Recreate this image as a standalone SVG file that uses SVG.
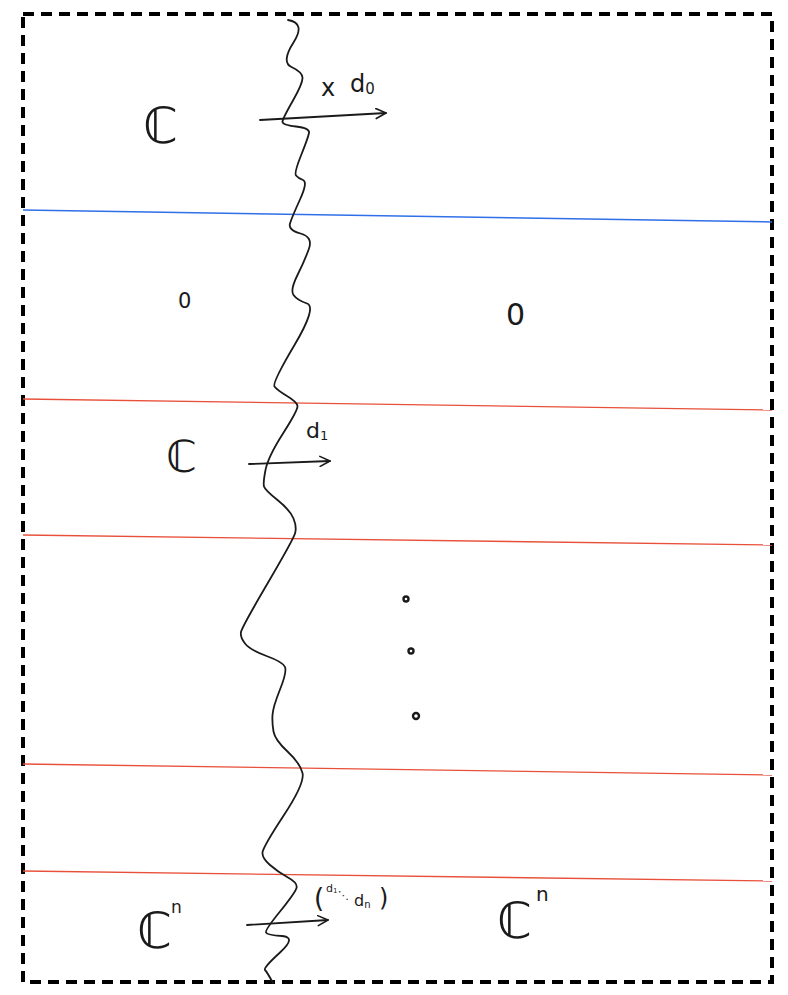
<svg xmlns="http://www.w3.org/2000/svg" width="788" height="995" viewBox="0 0 788 995">
<defs>
<style>
.ink{fill:none;stroke:#1a1a1a;stroke-width:1.8;stroke-linecap:round;stroke-linejoin:round}
.red{stroke:#e8503a;stroke-width:1.3;fill:none}
.blue{stroke:#2f6fe8;stroke-width:1.5;fill:none}
.t{font-family:"DejaVu Sans","Noto Sans",sans-serif;fill:#1a1a1a}
.dot{fill:none;stroke:#1a1a1a;stroke-width:2.4}
</style>
<marker id="ah" viewBox="0 0 12 12" refX="11" refY="6" markerWidth="12" markerHeight="12" markerUnits="userSpaceOnUse" orient="auto">
<path d="M1,1 L11,6 L1,11" fill="none" stroke="#1a1a1a" stroke-width="1.6" stroke-linecap="round" stroke-linejoin="round"/>
</marker>
</defs>
<rect width="788" height="995" fill="#ffffff"/>
<rect id="frame" x="23" y="14" width="749" height="968" fill="none" stroke="#000" stroke-width="4" stroke-dasharray="11,7"/>
<g id="lines">
<line class="blue" x1="23" y1="210" x2="772" y2="222"/>
<line class="red" x1="23" y1="399" x2="772" y2="410"/>
<line class="red" x1="23" y1="535" x2="772" y2="545"/>
<line class="red" x1="23" y1="764" x2="772" y2="775"/>
<line class="red" x1="23" y1="871" x2="772" y2="881"/>
</g>
<g id="wavy">
<path class="ink" d="M288,20 Q306,23 293.5,42.5 Q281,62 291.5,67 Q302,72 302.5,77.5 Q303,83 293,100.5 Q283,118 282.5,121.5 Q282,125 296,126.5 Q310,128 309,133 Q308,138 301,155.5 Q294,173 296,175.5 Q298,178 303,180 Q308,182 300,199.5 Q292,217 290,223.5 Q288,230 300.5,233.5 Q313,237 309,248.5 Q305,260 297.5,275 Q290,290 293.5,295 Q297,300 307,303.5 Q317,307 294.5,345 Q272,383 274.5,386.5 Q277,390 287,396 Q297,402 297.5,406 Q298,410 283,433.5 Q268,457 265.5,470 Q263,483 264,486.5 Q265,490 277.5,500 Q290,510 293.5,518.5 Q297,527 295,533.5 Q293,540 267.5,583.5 Q242,627 241,632 Q240,637 245,643.5 Q250,650 266.5,656 Q283,662 285,667 Q287,672 280,689.5 Q273,707 272.5,715 Q272,723 273.5,731.5 Q275,740 287.5,751.5 Q300,763 302.5,773 Q305,783 284,815 Q263,847 262.5,852.5 Q262,858 270,865 Q278,872 288,877.5 Q298,883 296.5,888 Q295,893 280,911.5 Q265,930 266,932.5 Q267,935 282,936 Q297,937 280,952.5 Q263,968 265,970 Q267,972 273,983"/>
</g>
<g id="connectors">
<path class="ink" d="M260,120 L386,113" marker-end="url(#ah)"/>
<path class="ink" d="M249,464 L330,461" marker-end="url(#ah)"/>
<path class="ink" d="M247,925 L328,920" marker-end="url(#ah)"/>
</g>
<g id="node-c0">
<text class="t" x="143" y="143" font-size="50">ℂ</text>
<text class="t" x="321" y="96" font-size="24">x</text>
<text class="t" x="350" y="92" font-size="24">d<tspan font-size="15" dy="2">0</tspan></text>
</g>
<g id="node-zeros">
<text class="t" x="178" y="308" font-size="21">0</text>
<text class="t" x="506" y="325" font-size="30">0</text>
</g>
<g id="node-c1">
<text class="t" x="166" y="472" font-size="44">ℂ</text>
<text class="t" x="306" y="438" font-size="22">d<tspan font-size="13" dy="2">1</tspan></text>
</g>
<g id="node-dots">
<circle class="dot" cx="406" cy="599" r="2.5"/>
<circle class="dot" cx="411" cy="651" r="2.5"/>
<circle class="dot" cx="416" cy="716" r="3"/>
</g>
<g id="node-cn-left">
<text class="t" x="137" y="948" font-size="50">ℂ</text>
<text class="t" x="171" y="913" font-size="17">n</text>
</g>
<g id="node-cn-right">
<text class="t" x="497" y="938" font-size="50">ℂ</text>
<text class="t" x="536" y="901" font-size="20">n</text>
</g>
<g id="node-vector">
<text class="t" x="314" y="907" font-size="26">(</text>
<text class="t" x="326" y="892" font-size="11">d<tspan font-size="7" dy="1">1</tspan></text>
<text class="t" x="338" y="899" font-size="11">⋱</text>
<text class="t" x="354" y="906" font-size="16">d<tspan font-size="10" dy="2">n</tspan></text>
<text class="t" x="379" y="906" font-size="24">)</text>
</g>
</svg>
